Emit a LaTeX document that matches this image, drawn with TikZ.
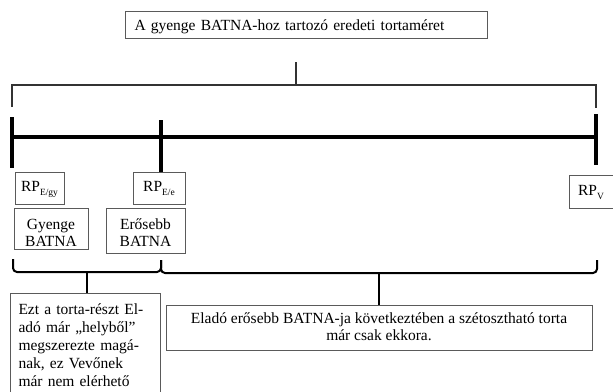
\documentclass[tikz,border=0pt]{standalone}
\usepackage{fontspec}
\setmainfont{Liberation Serif}
\definecolor{boxgray}{HTML}{5A5A5A}
\definecolor{brgray}{HTML}{333333}
\newcommand\rpsub[1]{\raisebox{-4pt}{\fontsize{9.5}{10}\selectfont #1}}
\newcommand\toplines[1]{\begin{tabular}[t]{@{}c@{}}#1\end{tabular}}
\begin{document}
\begin{tikzpicture}[x=1pt,y=-1pt,
  box/.style={draw=boxgray, line width=1pt, inner sep=0pt,
    font=\fontsize{15.5}{17}\selectfont},
  thinline/.style={line width=2pt, line cap=butt},
  brace/.style={line width=2pt, rounded corners=4pt},
  axis/.style={line width=4pt}]
\clip (0,0) rectangle (613,391);

% top label
\node[box, anchor=north west, text width=344pt, align=left, inner xsep=9pt,
  text height=19pt, text depth=8pt] (top) at (125,11)
  {A gyenge BATNA-hoz tartozó eredeti tortaméret};

% top bracket
\coordinate (ts) at (296,62);
\coordinate (tm) at (296,85);
\coordinate (tl) at (12,107);
\coordinate (tr) at (596,108);
\draw[thinline, brgray] (tl) -- (tl |- tm) -- (tr |- tm) -- (tr);
\draw[thinline, brgray] (ts) -- (tm);

% main axis
\coordinate (a) at (12,137);
\coordinate (b) at (161,137);
\coordinate (c) at (596,137);
\draw[axis] (a) -- (c);
\draw[axis] (12,117) -- (12,168);
\draw[axis] (161,120) -- (161,172);
\draw[axis] (596,114) -- (596,165);

% RP labels
\node[box, anchor=north, minimum width=49pt, text height=19pt, text depth=13pt]
  (rpgy) at (39.5,172) {RP\rpsub{E/gy}};
\node[box, anchor=north, minimum width=52pt, text height=19pt, text depth=13pt]
  (rpe) at (159,172) {RP\rpsub{E/e}};
\node[box, anchor=north, minimum width=44pt, text height=20pt, text depth=13pt]
  (rpv) at (591,175) {RP\rpsub{V}};

% BATNA boxes
\node[box, anchor=north, minimum width=74pt, text height=21pt, text depth=20pt]
  (gy) at (51,208) {\toplines{Gyenge\\BATNA}};
\node[box, anchor=north, minimum width=79pt, text height=21pt, text depth=24pt]
  (er) at (145.5,208) {\toplines{Erősebb\\BATNA}};

% bottom boxes
\node[box, anchor=north west, text width=134pt, align=left, inner xsep=8pt,
  font=\fontsize{15.5}{18}\selectfont, text height=21pt, text depth=110pt]
  (lb) at (10,293)
  {Ezt a torta-részt El-\\adó már „helyből”\\megszerezte magá-\\nak, ez Vevőnek\\már nem elérhető};
\node[box, anchor=north, minimum width=426pt, font=\fontsize{15.5}{16.5}\selectfont,
  text height=18.3pt, text depth=26.7pt]
  (rb) at (379,305)
  {\toplines{Eladó erősebb BATNA-ja következtében a szétosztható torta\\már csak ekkora.}};

% lower brackets
\coordinate (l1) at (13,259);
\coordinate (lm) at (87,272);
\coordinate (l2) at (161,260);
\draw[brace] (l1) -- (l1 |- lm) -- (l2 |- lm) -- (l2);
\draw[thinline] (lm) -- (lm |- lb.north);
\coordinate (r1) at (161,260);
\coordinate (rm) at (379,273);
\coordinate (r2) at (597,260);
\draw[brace] (r1) -- (r1 |- rm) -- (r2 |- rm) -- (r2);
\draw[thinline] (rm) -- (rb.north);
\end{tikzpicture}
\end{document}
